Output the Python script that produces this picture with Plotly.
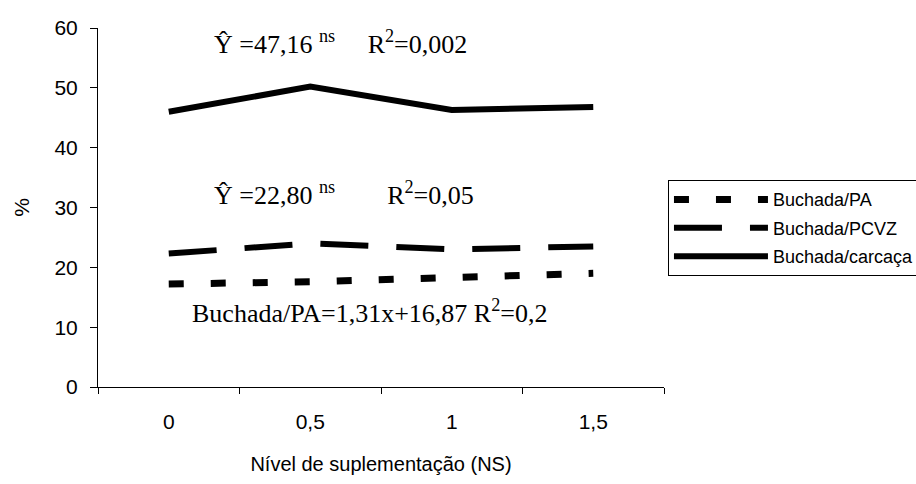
import plotly.graph_objects as go

categories = ["0", "0,5", "1", "1,5"]
buchada_pa = [17.2, 17.6, 18.3, 19.0]
buchada_pcvz = [22.3, 24.0, 23.0, 23.5]
buchada_carcaca = [46.0, 50.2, 46.3, 46.8]
y_ticks = [0, 10, 20, 30, 40, 50, 60]

fig = go.Figure()
fig.add_trace(go.Scatter(x=categories, y=buchada_pa, mode="lines", name="Buchada/PA", legendgroup="a",
                         line=dict(color="black", width=7, dash="15px,27px")))
fig.add_trace(go.Scatter(x=categories, y=buchada_pcvz, mode="lines", name="Buchada/PCVZ", legendgroup="b",
                         line=dict(color="black", width=6, dash="48px,28px")))
fig.add_trace(go.Scatter(x=categories, y=buchada_carcaca, mode="lines", name="Buchada/carcaça", legendgroup="c",
                         line=dict(color="black", width=6)))

nb = "\u00a0"
serif = dict(family="Liberation Serif, Times New Roman, serif", size=26, color="black")
fig.add_annotation(xref="paper", yref="y", x=0.2014, y=57.6, xanchor="left", yanchor="middle",
                   text="Ŷ =47,16 <sup>ns</sup>" + nb * 5 + "R<sup>2</sup>=0,002", showarrow=False, font=serif)
fig.add_annotation(xref="paper", yref="y", x=0.2014, y=32.3, xanchor="left", yanchor="middle",
                   text="Ŷ =22,80 <sup>ns</sup>" + nb * 8 + "R<sup>2</sup>=0,05", showarrow=False, font=serif)
fig.add_annotation(xref="paper", yref="y", x=0.1625, y=12.6, xanchor="left", yanchor="middle",
                   text="Buchada/PA=1,31x+16,87 R<sup>2</sup>=0,2", showarrow=False, font=serif)

fig.update_layout(
    width=916, height=484,
    margin=dict(l=98, r=252, t=28, b=97, autoexpand=False),
    paper_bgcolor="white", plot_bgcolor="white",
    font=dict(family="Liberation Sans, Arial, sans-serif", size=21, color="black"),
    showlegend=True,
    legend=dict(x=1.007, y=0.576, xanchor="left", yanchor="top",
                bordercolor="black", borderwidth=1, itemwidth=94,
                font=dict(family="Liberation Sans, Arial, sans-serif", size=18, color="black"),
                tracegroupgap=2),
    xaxis=dict(type="category", range=[-0.5, 3.5], tickson="boundaries", automargin=False,
               ticks="outside", ticklen=6, tickcolor="black", ticklabelstandoff=16,
               showline=True, linecolor="black", linewidth=1,
               showgrid=False, zeroline=False,
               title=dict(text="Nível de suplementação (NS)", font=dict(size=20), standoff=24),
               tickfont=dict(size=21)),
    yaxis=dict(range=[0, 60], tickvals=y_ticks, ticks="outside", ticklen=7, tickcolor="black",
               automargin=False, ticklabelstandoff=8,
               showline=True, linecolor="black", linewidth=1,
               showgrid=False, zeroline=False,
               title=dict(text="%", font=dict(size=21), standoff=19),
               tickfont=dict(size=21)),
)

fig.write_html("out.html", config={"displayModeBar": False},
               post_script="document.body.style.margin='0';document.body.style.overflow='hidden';")
